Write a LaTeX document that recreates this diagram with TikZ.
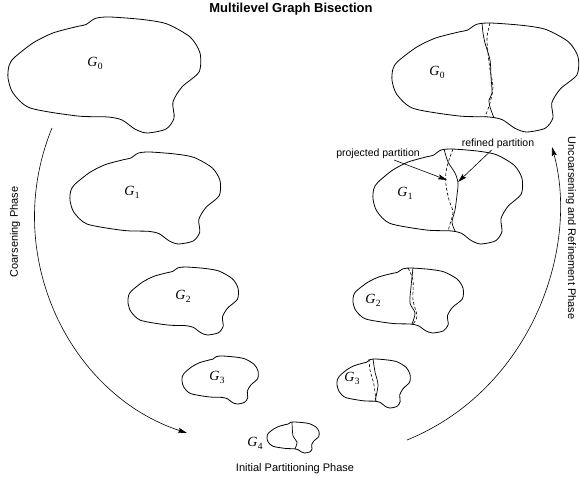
\documentclass[tikz,border=0pt]{standalone}
\usepackage{fontspec}
\setmainfont{Liberation Serif}
\newfontfamily\labelfont{Liberation Sans}
\usetikzlibrary{arrows.meta, positioning}

\newcommand{\glabel}[1]{\textit{G}\kern0.3pt\raisebox{-0.45ex}{\fontsize{9.5}{9.5}\selectfont #1}}

\begin{document}
\begin{tikzpicture}[
    x=1pt, y=-1pt,
    every node/.style={font=\labelfont\fontsize{10.5}{12}\selectfont, inner sep=1pt},
    glab/.style={font=\fontsize{14}{14}\selectfont},
    phase/.style={font=\labelfont\fontsize{11}{12}\selectfont},
    outline/.style={line width=0.8pt, line join=round},
    cutline/.style={line width=0.7pt},
    cutdash/.style={line width=0.6pt, dash pattern=on 3pt off 2pt},
    arrow/.style={-{Stealth[length=9pt, width=5pt, inset=1.5pt]}, line width=0.6pt},
    blob/.pic={
        \draw[outline] plot[smooth cycle, tension=0.45] coordinates {
            (0.530,0) (0.703,0.022) (0.828,0.060) (0.948,0.172) (1.0,0.310)
            (0.995,0.474) (0.906,0.603) (0.859,0.733) (0.865,0.871) (0.823,0.966)
            (0.724,1.0) (0.661,0.966) (0.594,0.888) (0.521,0.862) (0.359,0.853)
            (0.115,0.784) (0.026,0.655) (0,0.526) (0.005,0.422) (0.031,0.353)
            (0.130,0.224) (0.234,0.138) (0.360,0.082) (0.405,0.066) (0.455,0.012)};
    }
]
\useasboundingbox (0,0) rectangle (580,478);

\node[font=\labelfont\bfseries\fontsize{13}{14}\selectfont] (title) at (291,9) {Multilevel Graph Bisection};

% coarsening side
\pic[xscale=192, yscale=116] at (8,17) {blob};
\pic[xscale=150, yscale=92] at (70,152) {blob};
\pic[xscale=110, yscale=68] at (128,267) {blob};
\pic[xscale=76, yscale=48] at (182,356) {blob};

\node[glab] (g0a) at (95,63) {\glabel{0}};
\node[glab] (g1a) at (132,192) {\glabel{1}};
\node[glab] (g2a) at (183,296) {\glabel{2}};
\node[glab] (g3a) at (217,377) {\glabel{3}};

% coarsest graph
\pic[xscale=52, yscale=31] at (267,422) {blob};
\draw[cutline] plot[smooth] coordinates {(292,422) (293,436) (297,442) (295,449)};
\node[glab] (g4) at (255,443) {\glabel{4}};

% uncoarsening side
\pic[xscale=186, yscale=109] at (392,23) {blob};
\pic[xscale=149, yscale=95] at (373,149) {blob};
\pic[xscale=110, yscale=65] at (353,268) {blob};
\pic[xscale=73, yscale=49] at (337,359) {blob};

\draw[cutline] plot[smooth] coordinates {(482,23) (483,33) (485,43) (490,60) (491,77) (492,93) (489,100) (490,107) (494,118)};
\draw[cutdash] plot[smooth] coordinates {(490,23) (487,37) (488,53) (490,70) (493,87) (490,103) (485,117)};
\draw[cutline] plot[smooth] coordinates {(444,149) (448,162) (455,173) (458,183) (457,195) (455,210) (452,222) (455,231)};
\draw[cutdash] plot[smooth] coordinates {(453,149) (449,160) (446,172) (446,185) (449,200) (453,212) (450,224) (448,231)};
\draw[cutline] plot[smooth] coordinates {(413,268) (411,287) (410,303) (415,313) (412,324)};
\draw[cutdash] plot[smooth] coordinates {(408,268) (413,280) (413,300) (417,316) (413,324)};
\draw[cutline] plot[smooth] coordinates {(373,359) (375,372) (378,385) (375,401)};
\draw[cutdash] plot[smooth] coordinates {(369,359) (370,370) (374,385) (376,401)};

\node[glab] (g0b) at (437,72) {\glabel{0}};
\node[glab] (g1b) at (405,193) {\glabel{1}};
\node[glab] (g2b) at (373,300) {\glabel{2}};
\node[glab] (g3b) at (352,378) {\glabel{3}};

% partition labels
\node (proj) at (378,154) {projected partition};
\node (refd) at (498,144) {refined partition};
\coordinate (projtip) at (447,180);
\coordinate (refdtip) at (458,182);
\draw[arrow] (proj) -- (projtip);
\draw[arrow] (refd) -- (refdtip);

% phases
\coordinate (cstart) at (52,128);
\coordinate (cend) at (187,433);
\coordinate (ustart) at (407,440);
\coordinate (uend) at (552,147);
\draw[arrow] (cstart) .. controls (0,255) and (70,395) .. (cend);
\draw[arrow] (ustart) .. controls (530,390) and (580,250) .. (uend);

\node[phase, rotate=90] (coarse) at (15,232) {Coarsening Phase};
\node[phase, rotate=-90] (uncoarse) at (571,228) {Uncoarsening and Refinement Phase};
\node[phase] (initial) at (295,469) {Initial Partitioning Phase};
\end{tikzpicture}
\end{document}
